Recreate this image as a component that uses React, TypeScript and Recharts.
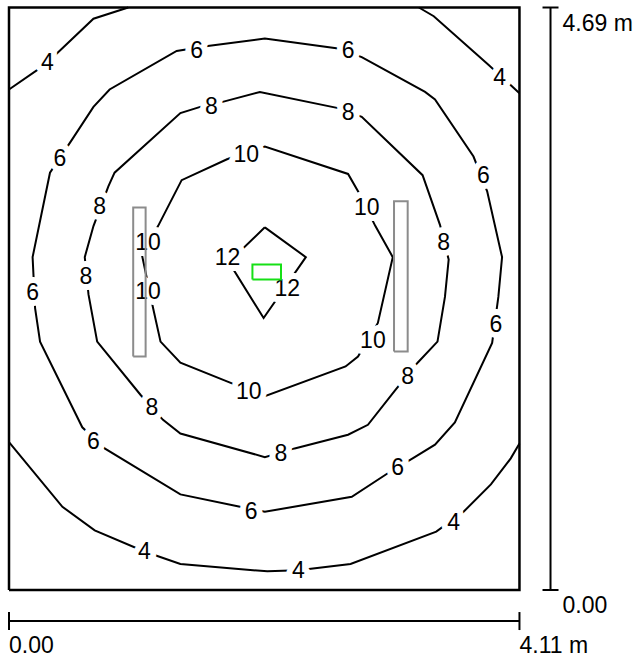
import React from "react";
import { ScatterChart, Scatter, XAxis, YAxis } from "recharts";

type Pt = [number, number];

// room, metres
const roomW = 4.11;
const roomH = 4.69;

const xTicks = [0, 4.11];
const xTickLabels = ["0.00", "4.11 m"];
const yTicks = [0, 4.69];
const yTickLabels = ["0.00", "4.69 m"];

// isolux lines (lx)
const iso4TopLeft: Pt[] = [[0, 4.03], [0.29, 4.23], [0.68, 4.6], [0.96, 4.69]];
const iso4TopRight: Pt[] = [[3.3, 4.69], [3.42, 4.62], [3.86, 4.23], [4.11, 4.0]];
const iso4Bottom: Pt[] = [
  [0, 1.19], [0.43, 0.67], [0.69, 0.48], [1.09, 0.31], [1.38, 0.21], [2.08, 0.15],
  [2.33, 0.16], [2.75, 0.21], [3.44, 0.47], [3.66, 0.63], [3.88, 0.85], [4.04, 1.06], [4.11, 1.18],
];
const iso6: Pt[] = [
  [1.6, 4.38], [2.06, 4.44], [2.65, 4.36], [2.84, 4.29], [3.35, 4.01], [3.43, 3.95],
  [3.74, 3.49], [3.85, 3.21], [3.97, 2.68], [3.94, 2.36], [3.89, 1.99], [3.59, 1.35],
  [3.43, 1.17], [3.25, 1.06], [3.05, 0.94], [2.76, 0.75], [2.06, 0.63], [1.86, 0.67],
  [1.38, 0.77], [0.77, 1.14], [0.59, 1.31], [0.25, 2.0], [0.21, 2.27], [0.19, 2.68],
  [0.33, 3.36], [0.51, 3.63], [0.68, 3.89], [0.81, 4.03], [1.35, 4.34], [1.6, 4.38],
];
const iso8: Pt[] = [
  [1.54, 3.89], [1.72, 3.93], [2.02, 4.01], [2.65, 3.88], [2.84, 3.81], [3.33, 3.34],
  [3.47, 2.94], [3.54, 2.66], [3.51, 2.36], [3.45, 2.0], [3.29, 1.83], [3.11, 1.61],
  [2.89, 1.33], [2.73, 1.25], [2.3, 1.14], [2.06, 1.07], [1.38, 1.26], [1.24, 1.37],
  [1.06, 1.57], [0.71, 2.0], [0.64, 2.38], [0.61, 2.68], [0.68, 2.93], [0.8, 3.25],
  [0.85, 3.36], [1.38, 3.84], [1.54, 3.89],
];
const iso10: Pt[] = [
  [1.76, 3.47], [2.06, 3.57], [2.73, 3.35], [2.81, 3.21], [2.95, 2.93], [3.09, 2.68],
  [2.97, 2.15], [2.81, 1.88], [2.71, 1.8], [2.06, 1.56], [1.78, 1.67], [1.38, 1.83],
  [1.22, 2.0], [1.16, 2.27], [1.07, 2.7], [1.2, 2.93], [1.39, 3.3], [1.76, 3.47],
];
const iso12: Pt[] = [[2.06, 2.92], [2.39, 2.68], [2.05, 2.19], [1.77, 2.64], [2.06, 2.92]];

// [x, y, value]
const isoLabels: [number, number, number][] = [
  [0.31, 4.25, 4], [3.95, 4.13, 4], [1.09, 0.31, 4], [2.33, 0.16, 4], [3.58, 0.55, 4],
  [1.51, 4.35, 6], [2.73, 4.35, 6], [3.82, 3.34, 6], [3.92, 2.14, 6], [3.13, 0.99, 6],
  [1.95, 0.64, 6], [0.68, 1.2, 6], [0.19, 2.4, 6], [0.41, 3.48, 6],
  [1.63, 3.9, 8], [2.73, 3.85, 8], [3.5, 2.8, 8], [3.21, 1.72, 8], [2.19, 1.1, 8],
  [1.15, 1.47, 8], [0.62, 2.53, 8], [0.73, 3.09, 8],
  [1.91, 3.51, 10], [2.88, 3.08, 10], [2.93, 2.01, 10], [1.93, 1.6, 10], [1.12, 2.41, 10], [1.12, 2.8, 10],
  [1.76, 2.68, 12], [2.24, 2.43, 12],
];

// [x1, x2, y1, y2]
const luminaires: [number, number, number, number][] = [
  [1.0, 1.1, 1.88, 3.08],
  [3.1, 3.21, 1.92, 3.13],
];
const taskArea: [number, number, number, number] = [1.96, 2.19, 2.5, 2.62];

const W = 638;
const H = 659;
const PX = 124.2; // px per metre
const OX = 9;
const OY = 590;
const DIM_OFF = 0.25;
const FONT = "'Liberation Sans', Arial, sans-serif";

const toPts = (pts: Pt[]) => pts.map(([x, y]) => ({ x, y }));
const box = ([x1, x2, y1, y2]: [number, number, number, number]) =>
  toPts([[x1, y1], [x2, y1], [x2, y2], [x1, y2], [x1, y1]]);

const noDot = () => <g />;

const IsoLabel = (p: any) => (
  <text
    x={p.cx}
    y={p.cy + 8}
    textAnchor="middle"
    fontSize={23}
    fontFamily={FONT}
    fill="#000"
    stroke="#fff"
    strokeWidth={12}
    strokeLinejoin="round"
    style={{ paintOrder: "stroke" }}
  >
    {p.payload.v}
  </text>
);

const XTick = (p: any) => (
  <g>
    <line x1={p.cx} x2={p.cx} y1={p.cy - 9} y2={p.cy + 9} stroke="#000" strokeWidth={2} />
    <text x={p.cx} y={p.cy + 32} fontSize={23} fontFamily={FONT} fill="#000">
      {p.payload.label}
    </text>
  </g>
);

const YTick = (p: any) => (
  <g>
    <line x1={p.cx - 8} x2={p.cx + 8} y1={p.cy} y2={p.cy} stroke="#000" strokeWidth={2} />
    <text x={p.cx + 12} y={p.cy + 23} fontSize={23} fontFamily={FONT} fill="#000">
      {p.payload.label}
    </text>
  </g>
);

const isoLines = [iso4TopLeft, iso4TopRight, iso4Bottom, iso6, iso8, iso10, iso12];

export default function App() {
  const labelData = isoLabels.map(([x, y, v]) => ({ x, y, v }));
  const xTickData = xTicks.map((x, i) => ({ x, y: -DIM_OFF, label: xTickLabels[i] }));
  const yTickData = yTicks.map((y, i) => ({ x: roomW + DIM_OFF, y, label: yTickLabels[i] }));

  return (
    <div style={{ position: "absolute", left: 0, top: 0, width: W, height: H, background: "#fff" }}>
      <ScatterChart width={W} height={H} margin={{ top: 0, right: 0, bottom: 0, left: 0 }}>
        <XAxis type="number" dataKey="x" hide domain={[-OX / PX, (W - OX) / PX]} />
        <YAxis type="number" dataKey="y" hide domain={[-(H - OY) / PX, OY / PX]} />

        {isoLines.map((pts, i) => (
          <Scatter
            key={"iso" + i}
            data={toPts(pts)}
            line={{ stroke: "#000", strokeWidth: 2 }}
            lineType="joint"
            shape={noDot}
            isAnimationActive={false}
          />
        ))}

        <Scatter data={labelData} shape={IsoLabel} isAnimationActive={false} />

        {luminaires.map((l, i) => (
          <Scatter
            key={"lum" + i}
            data={box(l)}
            line={{ stroke: "#8c8c8c", strokeWidth: 2 }}
            lineType="joint"
            shape={noDot}
            isAnimationActive={false}
          />
        ))}
        <Scatter
          data={box(taskArea)}
          line={{ stroke: "#16e016", strokeWidth: 2 }}
          lineType="joint"
          shape={noDot}
          isAnimationActive={false}
        />

        {/* room outline */}
        <Scatter
          data={box([0, roomW, 0, roomH])}
          line={{ stroke: "#000", strokeWidth: 2.5 }}
          lineType="joint"
          shape={noDot}
          isAnimationActive={false}
        />

        {/* dimension lines */}
        <Scatter
          data={toPts([[0, -DIM_OFF], [roomW, -DIM_OFF]])}
          line={{ stroke: "#000", strokeWidth: 2 }}
          lineType="joint"
          shape={noDot}
          isAnimationActive={false}
        />
        <Scatter
          data={toPts([[roomW + DIM_OFF, 0], [roomW + DIM_OFF, roomH]])}
          line={{ stroke: "#000", strokeWidth: 2 }}
          lineType="joint"
          shape={noDot}
          isAnimationActive={false}
        />
        <Scatter data={xTickData} shape={XTick} isAnimationActive={false} />
        <Scatter data={yTickData} shape={YTick} isAnimationActive={false} />
      </ScatterChart>
    </div>
  );
}
